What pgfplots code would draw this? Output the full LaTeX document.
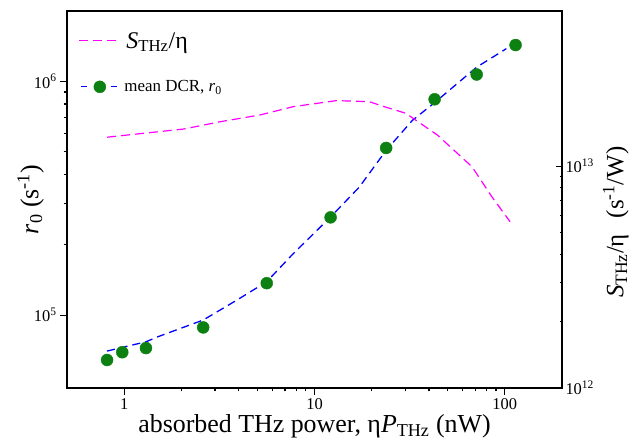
\documentclass[border=0pt]{standalone}
\usepackage{fontspec}
\setmainfont{Liberation Serif}
\usepackage{pgfplots}
\pgfplotsset{compat=1.18}

\definecolor{mag}{rgb}{1,0,1}
\definecolor{dcrblue}{rgb}{0,0,1}
\definecolor{dotgreen}{rgb}{0.05,0.5,0.07}

\newcommand{\tfs}{\fontsize{16.5}{16.5}\selectfont}
\newcommand{\lfs}{\fontsize{26}{26}\selectfont}

\begin{document}
\begin{tikzpicture}
\begin{axis}[
  scale only axis, width=495bp, height=377bp,
  xmode=log, ymode=log,
  xmin=0.5, xmax=200, ymin=4.88e4, ymax=2e6,
  xtick={1,10,100}, xticklabels={1,10,100},
  ytick={1e5,1e6}, yticklabels={10\textsuperscript{5},10\textsuperscript{6}},
  xtick pos=bottom, ytick pos=left, tick align=outside,
  major tick length=7bp, minor tick length=3.5bp,
  axis line style={line width=1.6bp},
  tick style={black, line width=1.1bp},
  ticklabel style={font=\tfs},
  xlabel={absorbed THz power, η\textit{P}\textsubscript{THz} (nW)},
  ylabel={\textit{r}\textsubscript{0} (s\textsuperscript{-1})},
  label style={font=\lfs},
  xlabel shift=-1.5bp,
  ylabel shift=-17bp,
  legend style={draw=none, fill=none, at={(0,1)}, anchor=north west, xshift=8bp, yshift=-17bp, row sep=27bp},
  legend cell align=left,
]
\addlegendimage{legend image code/.code={\draw[mag, line width=1.3bp, dash pattern=on 9bp off 5bp] (0bp,0bp) -- (39bp,0bp);}}
\addlegendentry{\fontsize{24}{24}\selectfont\hspace*{6bp}\textit{S}\textsubscript{THz}/η}
\addlegendimage{legend image code/.code={\draw[dcrblue, line width=1.3bp] (2bp,0bp) -- (8bp,0bp); \draw[dcrblue, line width=1.3bp] (32bp,0bp) -- (38bp,0bp); \fill[dotgreen] (21bp,0bp) circle (6bp);}}
\addlegendentry{\fontsize{17}{17}\selectfont\hspace*{4bp}mean DCR, \textit{r}\textsubscript{0}}

\addplot[color=dcrblue, line width=1.3bp, dash pattern=on 8bp off 5bp, forget plot] coordinates {
(0.812,7.02e4) (0.976,7.28e4) (1.30,7.69e4) (1.494,8.07e4) (2.60,9.53e4) (3.91,1.16e5)
(5.61,1.39e5) (7.72,1.83e5) (12.15,2.63e5) (17.2,3.53e5) (23.8,5.07e5) (32.7,6.81e5)
(42.8,8.11e5) (71.2,1.15e6) (102,1.38e6)
};
\addplot[only marks, mark=*, mark size=6bp, color=dotgreen, forget plot] coordinates {
(0.812,6.43e4) (0.976,6.94e4) (1.30,7.23e4) (2.60,8.86e4) (5.61,1.37e5) (12.15,2.62e5)
(23.8,5.19e5) (42.8,8.38e5) (71.2,1.07e6) (114,1.43e6)
};
\end{axis}
\begin{axis}[
  scale only axis, width=495bp, height=377bp,
  xmode=log, ymode=log,
  xmin=0.5, xmax=200, ymin=1e12, ymax=5e13,
  hide x axis, axis y line*=right,
  ytick={1e12,1e13}, yticklabels={10\textsuperscript{12},10\textsuperscript{13}},
  tick align=inside,
  major tick length=6bp, minor tick length=2.5bp,
  axis line style={line width=1.6bp},
  tick style={black, line width=1.1bp},
  ticklabel style={font=\tfs},
  ylabel={\textit{S}\textsubscript{THz}/η\hspace*{16bp}(s\textsuperscript{-1}/W)},
  label style={font=\fontsize{25}{25}\selectfont},
  ylabel style={at={(ticklabel cs:0.44)}},
  ylabel shift=2bp,
]
\addplot[color=mag, line width=1.2bp, dash pattern=on 9bp off 5bp] coordinates {
(0.812,1.349e13) (1.175,1.396e13) (2.06,1.469e13) (3.20,1.585e13) (5.17,1.699e13)
(7.72,1.852e13) (13.0,1.972e13) (19.4,1.951e13) (23.3,1.852e13) (30.2,1.729e13)
(44.2,1.381e13) (67.3,9.93e12) (85.5,7.28e12) (106.7,5.61e12)
};
\end{axis}
\pgfresetboundingbox
\path (-67bp,-59bp) rectangle (564bp,388bp);
\end{tikzpicture}
\end{document}
